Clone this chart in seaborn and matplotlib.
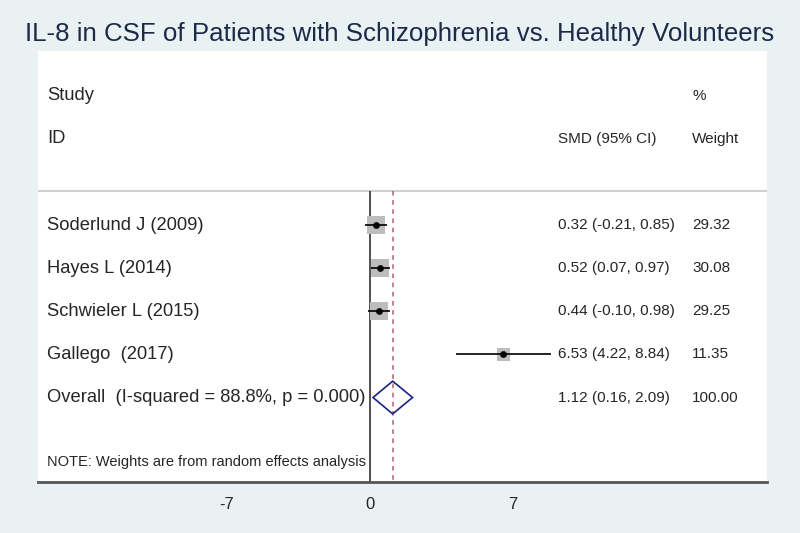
import seaborn as sns
import numpy as np
import pandas as pd
import matplotlib.pyplot as plt
from matplotlib.patches import Polygon

sns.set_style("white")
plt.rcParams['font.family'] = ['Liberation Sans', 'DejaVu Sans']

studies = ['Soderlund J (2009)', 'Hayes L (2014)', 'Schwieler L (2015)', 'Gallego  (2017)']
smd = [0.32, 0.52, 0.44, 6.53]
lo = [-0.21, 0.07, -0.10, 4.22]
hi = [0.85, 0.97, 0.98, 8.84]
weight = [29.32, 30.08, 29.25, 11.35]

overall_label = 'Overall  (I-squared = 88.8%, p = 0.000)'
overall = [1.12, 0.16, 2.09]
overall_weight = 100.00

xticks = [-7, 0, 7]

df = pd.DataFrame({'study': studies, 'smd': smd, 'lo': lo, 'hi': hi,
                   'weight': weight, 'row': np.arange(len(studies))})

bg = '#e9f1f3'
fig = plt.figure(figsize=(8, 5.33), dpi=100, facecolor=bg)
ax = fig.add_axes([38 / 800, 1 - 482 / 533, (767 - 38) / 800, (482 - 51) / 533])
ax.set_facecolor('white')

# row units: 0 = first study, spacing ~43 px
ax.set_xlim(-16.2, 19.4)
ax.set_ylim(5.96, -4.04)
line_top = -0.8

# header separator
ax.axhline(line_top, color='#d0d0d0', lw=1.5, zorder=1)

# null line and overall dashed line
ax.vlines(0, line_top, 5.96, color='#333333', lw=1.2, zorder=2)
ax.vlines(overall[0], line_top, 5.96, color='#b06070', lw=1.1, ls=(0, (3, 3)), zorder=2)

# weight boxes
sns.scatterplot(data=df, x='smd', y='row', size='weight', sizes=(45, 170),
                size_norm=(0, 30.08), marker='s', color='#bdbdbd', edgecolor='none',
                legend=False, ax=ax, zorder=3)
# confidence intervals
ax.hlines(df['row'], df['lo'], df['hi'], color='black', lw=1.2, zorder=4)
sns.scatterplot(data=df, x='smd', y='row', marker='o', s=20, color='black',
                edgecolor='black', legend=False, ax=ax, zorder=5)

# overall diamond
r_ov = len(studies)
dh = 0.38
diamond = Polygon([[overall[1], r_ov], [overall[0], r_ov - dh],
                   [overall[2], r_ov], [overall[0], r_ov + dh]],
                  closed=True, fill=False, edgecolor='#1a237e', lw=1.2, zorder=5)
ax.add_patch(diamond)

# text columns
fs = 13.2
fs2 = 11
x_name = -15.75
x_ci = 9.2
x_w = 15.75
ax.text(x_name, -3, 'Study', fontsize=fs, va='center')
ax.text(x_name, -2, 'ID', fontsize=fs, va='center')
ax.text(x_ci, -2, 'SMD (95% CI)', fontsize=fs2, va='center')
ax.text(x_w, -3, '%', fontsize=fs2, va='center')
ax.text(x_w, -2, 'Weight', fontsize=fs2, va='center')

for i, s in enumerate(studies):
    ax.text(x_name, i, s, fontsize=fs, va='center')
    ax.text(x_ci, i, f'{smd[i]:.2f} ({lo[i]:.2f}, {hi[i]:.2f})', fontsize=fs2, va='center')
    ax.text(x_w, i, f'{weight[i]:.2f}', fontsize=fs2, va='center')

ax.text(x_name, r_ov, overall_label, fontsize=fs, va='center')
ax.text(x_ci, r_ov, f'{overall[0]:.2f} ({overall[1]:.2f}, {overall[2]:.2f})', fontsize=fs2, va='center')
ax.text(x_w, r_ov, f'{overall_weight:.2f}', fontsize=fs2, va='center')
ax.text(x_name, 5.5, 'NOTE: Weights are from random effects analysis', fontsize=10.5, va='center')

# axis styling
for side in ['top', 'right', 'left']:
    ax.spines[side].set_visible(False)
ax.spines['bottom'].set_color('#555555')
ax.spines['bottom'].set_linewidth(2)
ax.set_yticks([])
ax.set_xticks(xticks)
ax.set_xticklabels([str(t) for t in xticks], fontsize=12)
ax.tick_params(axis='x', direction='out', length=7, width=1, color='#444444', pad=4)
ax.set_xlabel('')
ax.set_ylabel('')

fig.text(0.5, 1 - 34 / 533, 'IL-8 in CSF of Patients with Schizophrenia vs. Healthy Volunteers',
         ha='center', va='center', fontsize=18.6, color='#1c2a4a')

fig.savefig('out.png', dpi=100, facecolor=bg)
